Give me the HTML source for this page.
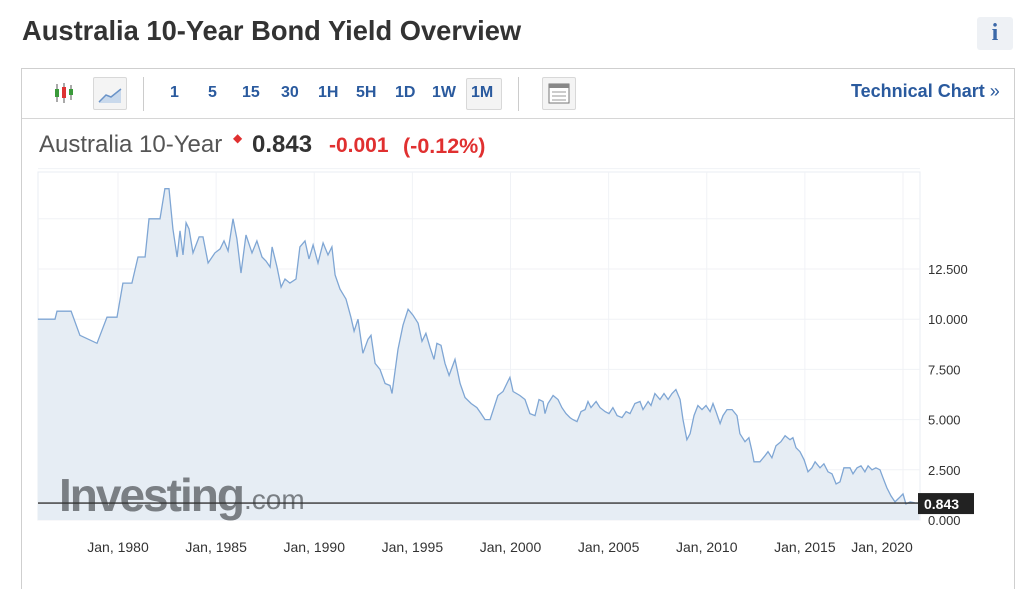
<!DOCTYPE html>
<html><head><meta charset="utf-8"><style>
body{margin:0;width:1024px;height:586px;background:#fff;font-family:"Liberation Sans",sans-serif;position:relative;overflow:hidden}
.abs{position:absolute}
.title{left:22px;top:15px;font-size:27.3px;font-weight:bold;color:#333}
.info{left:977px;top:17px;width:36px;height:33px;background:#eef1f5;border-radius:3px;color:#3b68a8;font-family:"Liberation Serif",serif;font-weight:bold;font-size:24px;text-align:center;line-height:33px}
.box{left:21px;top:68px;width:992px;height:520px;border:1px solid #cfcfcf;border-bottom:none}
.tb{left:22px;top:69px;width:992px;height:49px;border-bottom:1px solid #d6d6d6}
.tf{top:84px;font-size:16px;font-weight:bold;color:#2a5a9e}
.tech{left:851px;top:81px;font-size:18px;font-weight:bold;color:#2a5a9e}
.btn{border:1px solid #d8d8d8;background:#f4f4f4;border-radius:2px}
.sep{width:1px;height:34px;background:#ccc;top:77px}
</style></head><body>
<div class="abs title">Australia 10-Year Bond Yield Overview</div>
<div class="abs info">i</div>
<div class="abs box"></div>
<div class="abs tb"></div>
<svg class="abs" style="left:52px;top:80px" width="26" height="26">
<line x1="5" y1="4" x2="5" y2="22" stroke="#555"/><rect x="3" y="9" width="4" height="8" fill="#3a9a3a"/>
<line x1="12" y1="3" x2="12" y2="23" stroke="#555"/><rect x="10" y="7" width="4" height="11" fill="#d33"/>
<line x1="19" y1="5" x2="19" y2="20" stroke="#555"/><rect x="17" y="9" width="4" height="6" fill="#3a9a3a"/></svg>
<div class="abs btn" style="left:93px;top:77px;width:32px;height:31px">
<svg width="32" height="31"><path d="M5 24 L12 17 L17 19 L27 11 L27 25 L5 25Z" fill="#c9d9ec"/><path d="M5 24 L12 17 L17 19 L27 11" stroke="#6a93c8" fill="none" stroke-width="1.5"/></svg></div>
<div class="abs sep" style="left:143px"></div>
<span class="abs tf" style="left:170px">1</span>
<span class="abs tf" style="left:208px">5</span>
<span class="abs tf" style="left:242px">15</span>
<span class="abs tf" style="left:281px">30</span>
<span class="abs tf" style="left:318px">1H</span>
<span class="abs tf" style="left:356px">5H</span>
<span class="abs tf" style="left:395px">1D</span>
<span class="abs tf" style="left:432px">1W</span>
<div class="abs btn" style="left:466px;top:78px;width:34px;height:30px"></div>
<span class="abs tf" style="left:471px">1M</span>
<div class="abs sep" style="left:518px"></div>
<div class="abs btn" style="left:542px;top:77px;width:32px;height:31px">
<svg width="32" height="31"><rect x="6" y="6" width="20" height="19" fill="#fff" stroke="#777"/><rect x="6" y="6" width="20" height="4" fill="#888"/><line x1="9" y1="14" x2="23" y2="14" stroke="#999"/><line x1="9" y1="18" x2="23" y2="18" stroke="#999"/><line x1="9" y1="22" x2="23" y2="22" stroke="#999"/></svg></div>
<div class="abs tech">Technical Chart <span style="font-weight:normal">»</span></div>
<div class="abs" style="left:39px;top:131px;font-size:24px;color:#555">Australia 10-Year</div>
<div class="abs" style="left:233px;top:131px;font-size:12px;color:#e03030">&#9670;</div>
<div class="abs" style="left:252px;top:131px;font-size:24px;font-weight:bold;color:#333">0.843</div>
<div class="abs" style="left:329px;top:134px;font-size:21px;font-weight:bold;color:#e03030">-0.001</div>
<div class="abs" style="left:403px;top:134px;font-size:21.5px;font-weight:bold;color:#e03030">(-0.12%)</div>
<svg id="chart" class="abs" style="left:0;top:0" width="1024" height="586"></svg>
<script>
const years=[1975.92,1976.79,1976.89,1977.61,1978.06,1978.93,1979.44,1979.95,1980.25,1980.71,1981.02,1981.38,1981.58,1982.14,1982.39,1982.6,1982.8,1983.01,1983.16,1983.31,1983.47,1983.62,1983.82,1984.13,1984.33,1984.59,1984.94,1985.2,1985.4,1985.61,1985.86,1986.06,1986.27,1986.52,1986.83,1987.08,1987.34,1987.54,1987.75,1987.85,1988.1,1988.31,1988.51,1988.76,1989.07,1989.27,1989.53,1989.73,1989.94,1990.19,1990.45,1990.7,1990.9,1991.06,1991.31,1991.62,1991.87,1992.03,1992.23,1992.48,1992.74,1992.89,1993.1,1993.35,1993.61,1993.86,1993.96,1994.27,1994.52,1994.78,1995.03,1995.29,1995.49,1995.69,1995.9,1996.1,1996.25,1996.46,1996.66,1996.87,1997.17,1997.43,1997.68,1997.99,1998.29,1998.5,1998.7,1998.96,1999.16,1999.36,1999.62,1999.87,1999.97,2000.13,2000.48,2000.74,2000.99,2001.25,2001.45,2001.66,2001.76,2001.91,2002.17,2002.42,2002.62,2002.83,2003.03,2003.18,2003.39,2003.59,2003.8,2003.95,2004.1,2004.36,2004.56,2004.82,2005.02,2005.22,2005.43,2005.68,2005.89,2006.09,2006.34,2006.6,2006.75,2007.01,2007.16,2007.36,2007.62,2007.82,2008.03,2008.23,2008.43,2008.64,2008.79,2008.99,2009.15,2009.35,2009.55,2009.76,2009.96,2010.17,2010.32,2010.47,2010.68,2010.83,2011.03,2011.29,2011.54,2011.69,2011.95,2012.15,2012.31,2012.41,2012.71,2012.97,2013.12,2013.32,2013.53,2013.78,2013.99,2014.24,2014.39,2014.55,2014.75,2014.96,2015.16,2015.36,2015.52,2015.77,2015.97,2016.18,2016.38,2016.59,2016.79,2016.99,2017.3,2017.45,2017.66,2017.86,2018.06,2018.22,2018.42,2018.62,2018.83,2018.98,2019.18,2019.39,2019.59,2019.8,2020.0,2020.15,2020.36,2020.61,2020.82];
const yields=[10.0,10.0,10.4,10.4,9.2,8.8,10.1,10.1,11.8,11.8,13.1,13.1,15.0,15.0,16.5,16.5,14.5,13.1,14.4,13.2,14.8,14.5,13.3,14.1,14.1,12.8,13.3,13.5,13.9,13.4,15.0,14.0,12.3,14.2,13.3,13.9,13.1,12.9,12.6,13.6,12.6,11.6,12.0,11.8,12.0,13.6,13.9,13.0,13.7,12.8,13.8,13.2,13.6,12.2,11.5,11.0,10.1,9.4,10.0,8.3,9.0,9.2,7.8,7.5,6.8,6.7,6.3,8.5,9.7,10.5,10.2,9.8,8.9,9.3,8.6,8.0,8.8,8.7,7.8,7.2,8.0,6.8,6.1,5.8,5.6,5.3,5.0,5.0,5.6,6.2,6.4,6.9,7.1,6.4,6.2,6.0,5.3,5.2,6.0,5.9,5.3,5.8,6.2,6.0,5.6,5.3,5.1,5.0,4.9,5.4,5.5,5.9,5.6,5.9,5.6,5.4,5.3,5.6,5.2,5.1,5.4,5.3,5.8,5.9,5.5,5.9,5.7,6.3,6.0,6.3,6.0,6.3,6.5,6.0,5.0,4.0,4.3,5.2,5.7,5.5,5.7,5.4,5.8,5.4,4.8,5.2,5.5,5.5,5.2,4.3,3.9,4.1,3.4,2.9,2.9,3.2,3.4,3.1,3.7,3.9,4.2,4.0,4.1,3.6,3.4,3.0,2.4,2.6,2.9,2.6,2.8,2.4,2.3,1.8,1.9,2.6,2.6,2.3,2.6,2.7,2.4,2.7,2.5,2.6,2.5,2.1,1.6,1.2,0.9,1.1,1.3,0.8,0.9,0.85,0.84];
const yTicks=[0,2.5,5,7.5,10,12.5];
const yTickLabels=["0.000","2.500","5.000","7.500","10.000","12.500"];
const xTicks=[1980,1985,1990,1995,2000,2005,2010,2015,2020];
const xTickLabels=["Jan, 1980","Jan, 1985","Jan, 1990","Jan, 1995","Jan, 2000","Jan, 2005","Jan, 2010","Jan, 2015","Jan, 2020"];
const lastValue=0.843;
const NS="http://www.w3.org/2000/svg";
const svg=document.getElementById('chart');
const L=38,R=920,T=172,B=520;
const xs=y=>118+(y-1980)*19.625;
const ys=v=>520-v*20.08;
function mk(t,a,p){const e=document.createElementNS(NS,t);for(const k in a)e.setAttribute(k,a[k]);(p||svg).appendChild(e);return e;}
const frame=mk('rect',{x:L,y:T,width:R-L,height:B-T,fill:'#fff',stroke:'#e8ecf3'});


yTicks.forEach((t,i)=>{
 const g=mk('line',{x1:L,x2:R,y1:ys(t),y2:ys(t),stroke:'#f0f2f6'});
 
 
 const tx=mk('text',{x:928,y:ys(t)+5,'font-size':13,fill:'#333','font-family':'Liberation Sans'});
 tx.textContent=yTickLabels[i];
 
 
});
[ys(15),ys(17.5)].forEach(yy=>{const g=mk('line',{x1:L,x2:R,y1:yy,y2:yy,stroke:'#f0f2f6'});
 
 });
xTicks.forEach((t,i)=>{
 const g=mk('line',{x1:xs(t),x2:xs(t),y1:T,y2:B,stroke:'#f0f2f6'});
 
 
 let cx=xs(t); if(i==xTicks.length-1) cx=Math.min(cx,R-38);
 const tx=mk('text',{x:cx,y:552,'font-size':14,fill:'#333','text-anchor':'middle','font-family':'Liberation Sans'});
 tx.textContent=xTickLabels[i];
 
 
});
let d='';years.forEach((y,i)=>{d+=(i?'L':'M')+xs(y).toFixed(1)+' '+ys(yields[i]).toFixed(1);});
const area=mk('path',{d:d+'L'+xs(years[years.length-1]).toFixed(1)+' '+B+'L'+xs(years[0]).toFixed(1)+' '+B+'Z',fill:'#e6edf4'});


const wm=mk('text',{x:59,y:511,'font-size':46,'font-weight':'bold',fill:'#7a7f84','font-family':'Liberation Sans','letter-spacing':'-2'});
wm.textContent='Investing';


const wm2=mk('text',{x:244,y:509,'font-size':28,fill:'#7a7f84','font-family':'Liberation Sans'});
wm2.textContent='.com';


const line=mk('path',{d:d,fill:'none',stroke:'#7fa6d4','stroke-width':1.3});


const hl=mk('line',{x1:L,x2:R,y1:ys(lastValue),y2:ys(lastValue),stroke:'#333','stroke-width':1.3});


const lb=mk('rect',{x:918,y:ys(lastValue)-10,width:56,height:21,fill:'#222'});


const lt=mk('text',{x:924,y:ys(lastValue)+6,'font-size':14,'font-weight':'bold',fill:'#fff','font-family':'Liberation Sans'});
lt.textContent=lastValue.toFixed(3);


</script>
</body></html>
